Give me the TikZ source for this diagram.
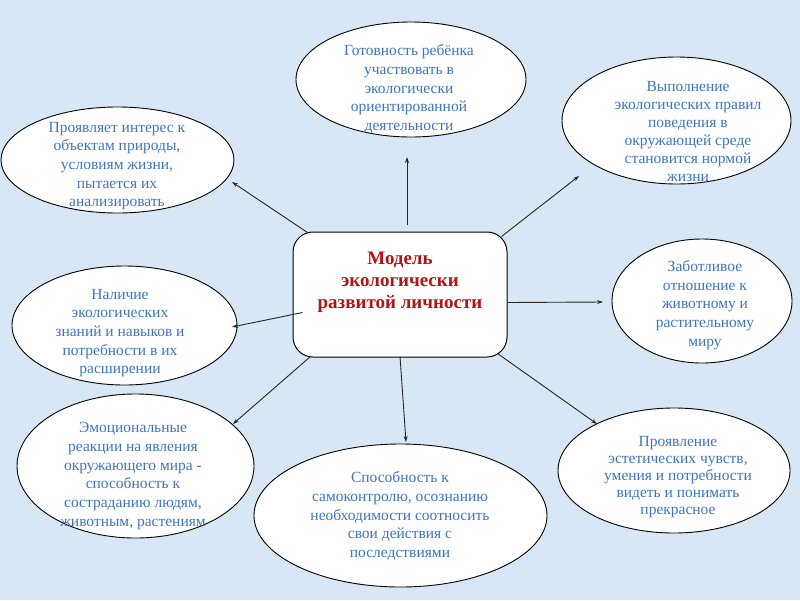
\documentclass[tikz,border=0pt]{standalone}
\usepackage{fontspec}
\setmainfont{Liberation Serif}
\usetikzlibrary{shapes.geometric,arrows.meta}
\definecolor{bg}{RGB}{216,231,245}
\definecolor{txtblue}{RGB}{62,118,188}
\definecolor{dred}{RGB}{178,20,20}
\begin{document}
\begin{tikzpicture}[x=1pt,y=-1pt,
  bubble/.style={ellipse, draw=black, line width=0.9pt, fill=white, inner sep=0pt},
  btext/.style={text=txtblue, align=center, inner sep=0pt, font=\fontsize{15.5}{18.7}\selectfont},
  centerbox/.style={draw=black, line width=1pt, fill=white, rounded corners=20pt, inner sep=0pt, minimum width=214pt, minimum height=125pt},
  ctext/.style={text=dred, align=center, inner sep=0pt, font=\bfseries\fontsize{19}{22}\selectfont},
  arr/.style={draw=black!85, line width=0.9pt, -{Stealth[length=6pt,width=4pt]}}]
\fill[bg] (0,0) rectangle (800,600);
\useasboundingbox (0,0) rectangle (800,600);

% ellipses
\node[bubble, minimum width=230pt, minimum height=115pt] (e1) at (411,79.5) {};
\node[bubble, minimum width=229pt, minimum height=127pt] (e2) at (676.5,120.5) {};
\node[bubble, minimum width=233pt, minimum height=106pt] (e3) at (117.5,160) {};
\node[bubble, minimum width=180pt, minimum height=124pt] (e5) at (702,301) {};
\node[bubble, minimum width=225pt, minimum height=119pt] (e6) at (124.5,325.5) {};
\node[bubble, minimum width=237pt, minimum height=144pt] (e7) at (135.5,466) {};
\node[bubble, minimum width=293pt, minimum height=143pt] (e8) at (400.5,515.5) {};
\node[bubble, minimum width=232pt, minimum height=125pt] (e9) at (674,470.5) {};

% texts
\node[btext] (t1) at (409,89) {Готовность ребёнка\\участвовать в\\экологически\\ориентированной\\деятельности};
\node[btext, font=\fontsize{15.5}{18}\selectfont] (t2) at (688,131) {Выполнение\\экологических правил\\поведения в\\окружающей среде\\становится нормой\\жизни};
\node[btext] (t3) at (117,166) {Проявляет интерес к\\объектам природы,\\условиям жизни,\\пытается их\\анализировать};
\node[btext] (t5) at (705,305) {Заботливое\\отношение к\\животному и\\растительному\\миру};
\node[btext] (t6) at (120,333) {Наличие\\экологических\\знаний и навыков и\\потребности в их\\расширении};
\node[btext] (t7) at (133,476) {Эмоциональные\\реакции на явления\\окружающего мира -\\способность к\\состраданию людям,\\животным, растениям};
\node[btext] (t8) at (400,516) {Способность к\\самоконтролю, осознанию\\необходимости соотносить\\свои действия с\\последствиями};
\node[btext, font=\fontsize{15.5}{17}\selectfont] (t9) at (678,477) {Проявление\\эстетических чувств,\\умения и потребности\\видеть и понимать\\прекрасное};

% center
\node[centerbox] (c) at (400,294.5) {};
\node[ctext] (ct) at (400,282) {Модель\\экологически\\развитой личности};

% arrow tips
\coordinate (a1) at (407,157);
\coordinate (a2) at (232,182);
\coordinate (a3) at (579,176);
\coordinate (a4) at (603,302);
\coordinate (a5) at (232,327);
\coordinate (a6) at (233,424);
\coordinate (a7) at (406,442);
\coordinate (a8) at (597,424);

\draw[arr] ([xshift=7pt,yshift=7pt]c.north) -- (a1);
\draw[arr] ([xshift=15pt,yshift=-1pt]c.north west) -- (a2);
\draw[arr] ([xshift=-6pt,yshift=-5pt]c.north east) -- (a3);
\draw[arr] ([yshift=-8pt]c.east) -- (a4);
\draw[arr] ([xshift=10pt,yshift=-18pt]c.west) -- (a5);
\draw[arr] ([xshift=18pt,yshift=1pt]c.south west) -- (a6);
\draw[arr] ([yshift=1pt]c.south) -- (a7);
\draw[arr] ([xshift=-10pt,yshift=4pt]c.south east) -- (a8);
\end{tikzpicture}
\end{document}
